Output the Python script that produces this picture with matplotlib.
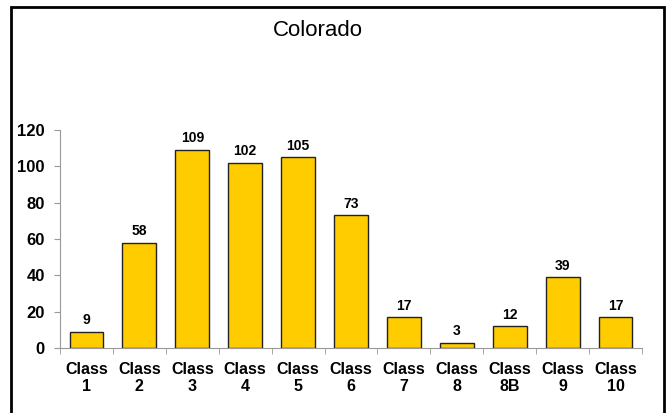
import matplotlib.pyplot as plt
from matplotlib.patches import Rectangle

plt.rcParams['font.family'] = ['Liberation Sans', 'DejaVu Sans']

classes = ['Class\n1', 'Class\n2', 'Class\n3', 'Class\n4', 'Class\n5', 'Class\n6',
           'Class\n7', 'Class\n8', 'Class\n8B', 'Class\n9', 'Class\n10']
counts = [9, 58, 109, 102, 105, 73, 17, 3, 12, 39, 17]

W, H = 667, 413
fig = plt.figure(figsize=(W / 100, H / 100), dpi=100)
ax = fig.add_axes([60 / W, 1 - 348 / H, (642 - 60) / W, (348 - 130) / H])

x = range(len(counts))
bars = ax.bar(x, counts, width=0.64, color='#FFCC00', edgecolor='#222222', linewidth=1.0)
for xi, v in zip(x, counts):
    ax.text(xi, v + 2.5, str(v), ha='center', va='bottom', fontsize=10, fontweight='bold')

ax.set_xlim(-0.5, len(counts) - 0.5)
ax.set_ylim(0, 120)
ax.set_yticks(range(0, 121, 20))
ax.set_yticklabels([str(v) for v in range(0, 121, 20)], fontsize=12, fontweight='bold')
ax.set_xticks(list(x))
ax.set_xticklabels(classes, fontsize=11.5, fontweight='bold', linespacing=1.15)
ax.set_xticks([i + 0.5 for i in range(-1, len(counts))], minor=True)
ax.tick_params(axis='x', which='major', length=0, pad=10)
ax.tick_params(axis='x', which='minor', length=4, color='#999999')
ax.tick_params(axis='y', length=4, color='#999999', pad=7)
for s in ['top', 'right']:
    ax.spines[s].set_visible(False)
for s in ['left', 'bottom']:
    ax.spines[s].set_color('#999999')

fig.text(318 / W, 1 - 31 / H, 'Colorado', ha='center', va='center', fontsize=16)

fig.add_artist(Rectangle((11 / W, -0.05), (664 - 11) / W, 1.05 - 7 / H,
                         transform=fig.transFigure, fill=False, edgecolor='black', linewidth=2))

fig.savefig('out.png', dpi=100)
